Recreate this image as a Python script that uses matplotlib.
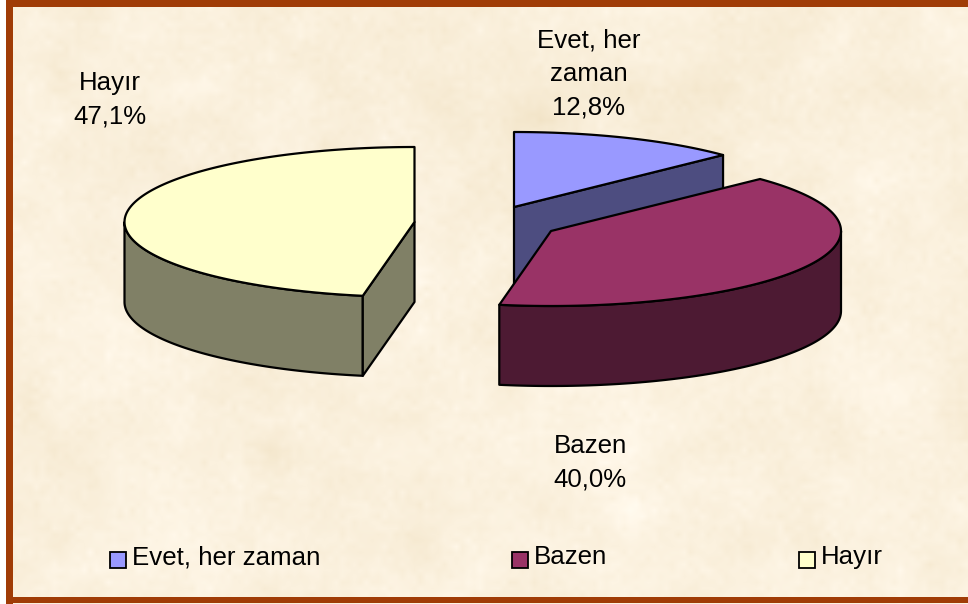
import numpy as np
import matplotlib
matplotlib.use('Agg')
import matplotlib.pyplot as plt
from matplotlib.patches import Polygon, Rectangle

plt.rcParams['font.family'] = ['Liberation Sans', 'DejaVu Sans']

# Dados
categorias = ['Evet, her zaman', 'Bazen', 'Hayır']
rotulos = ['Evet, her\nzaman', 'Bazen', 'Hayır']
valores = [12.8, 40.0, 47.1]

# Cores
cor_topo = ['#9999FF', '#993366', '#FFFFCC']
cor_lado = ['#4D4D80', '#4D1A33', '#808066']
cor_borda = '#A03C06'

# Geometria do pie (pixels da figura)
centros = [(514, 207), (551, 231), (414.5, 222)]
raio_x = 290
raio_y = 75
altura = 80
pos_rotulos = [(589, 74), (590, 463), (110, 100)]
pos_legenda = [110, 512, 799]
tam_fonte = 18.6

L, H = 968, 604
fig = plt.figure(figsize=(L / 100, H / 100), dpi=100, facecolor='white')
ax = fig.add_axes([0, 0, 1, 1])
ax.set_xlim(0, L)
ax.set_ylim(H, 0)
ax.axis('off')

# Fundo de pergaminho (textura suave, nao e dado)
rng = np.random.default_rng(7)
textura = np.zeros((H, L))
for passo, peso in [(90, 1.8), (30, 1.5), (6, 0.9)]:
    grade = rng.normal(size=(H // passo + 2, L // passo + 2))
    xs = np.arange(L) / passo
    ys = np.arange(H) / passo
    linhas = np.array([np.interp(xs, np.arange(grade.shape[1]), g) for g in grade])
    campo = np.array([np.interp(ys, np.arange(grade.shape[0]), c) for c in linhas.T]).T
    textura += peso * campo
base = np.array([251, 241, 222], dtype=float)
tinta = np.array([1.0, 1.5, 2.6])
img = np.clip(base[None, None, :] + textura[:, :, None] * tinta, 0, 255) / 255
ax.imshow(img, extent=[0, L, H, 0], aspect='auto', zorder=0)
ax.add_patch(Rectangle((0, 0), 6, H, fc='white', ec='none', zorder=1))
ax.set_xlim(0, L)
ax.set_ylim(H, 0)

# Moldura
ax.add_patch(Rectangle((6, 0), L, 7, fc=cor_borda, ec='none', zorder=1))
ax.add_patch(Rectangle((6, 0), 7, 604, fc=cor_borda, ec='none', zorder=1))
ax.add_patch(Rectangle((6, 597), L, 6, fc=cor_borda, ec='none', zorder=1))

# Fatias
total = sum(valores)
inicio = np.cumsum([0] + valores[:-1]) / total * 2 * np.pi
fim = np.cumsum(valores) / total * 2 * np.pi


def ponto(c, ang):
    return c[0] + raio_x * np.sin(ang), c[1] - raio_y * np.cos(ang)


for i in range(len(valores)):
    c = centros[i]
    a, b = inicio[i], fim[i]
    z = 2 + i if i != 2 else 2
    estilo = dict(ec='black', lw=1.6, joinstyle='round', zorder=z)

    # parede curva frontal
    a1, b1 = max(a, np.pi / 2), min(b, 3 * np.pi / 2)
    if b1 > a1:
        t = np.linspace(a1, b1, 90)
        xc, yc = ponto(c, t)
        arco = np.column_stack([xc, yc])
        parede = np.vstack([arco, (arco + [0, altura])[::-1]])
        ax.add_patch(Polygon(parede, fc=cor_lado[i], **estilo))

    # faces de corte visiveis
    for ang, normal in [(a, a - np.pi / 2), (b, b + np.pi / 2)]:
        if np.cos(normal) < -1e-6:
            p = ponto(c, ang)
            face = [c, p, (p[0], p[1] + altura), (c[0], c[1] + altura)]
            ax.add_patch(Polygon(face, fc=cor_lado[i], **estilo))

    # topo
    t = np.linspace(a, b, 160)
    xc, yc = ponto(c, t)
    topo = np.vstack([[c], np.column_stack([xc, yc])])
    ax.add_patch(Polygon(topo, fc=cor_topo[i], **estilo))

# Rotulos
for i in range(len(valores)):
    pct = f'{valores[i]:.1f}%'.replace('.', ',')
    ax.text(pos_rotulos[i][0], pos_rotulos[i][1], rotulos[i] + '\n' + pct,
            ha='center', va='center', fontsize=tam_fonte, color='black',
            linespacing=1.52, zorder=6)

# Legenda
for i in range(len(categorias)):
    ax.add_patch(Rectangle((pos_legenda[i], 552), 16, 16, fc=cor_topo[i],
                           ec='black', lw=1.3, zorder=6))
    ax.text(pos_legenda[i] + 22, 557, categorias[i], ha='left', va='center',
            fontsize=tam_fonte, color='black', zorder=6)

fig.savefig('out.png', dpi=100)
